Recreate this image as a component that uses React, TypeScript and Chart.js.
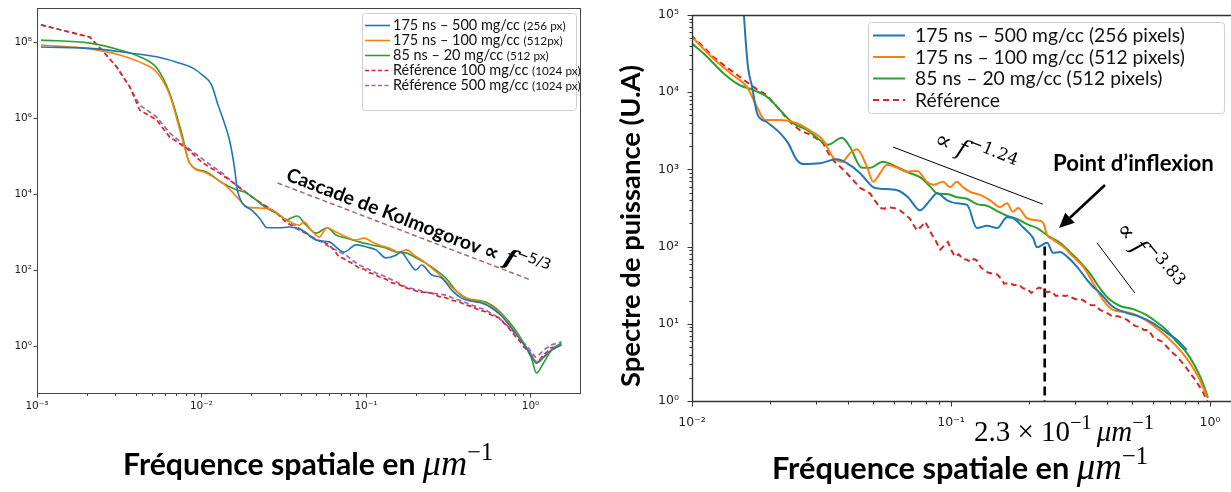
import React, { useEffect, useRef } from 'react';
import { Chart, registerables } from 'chart.js';
Chart.register(...registerables);

// ===== Data (stored as log10 of frequency / power) =====
// ---- Left panel ----
const L_BLUE_LOGF = [-2.976,-2.636,-2.436,-2.273,-2.152,-2.055,-1.994,-1.939,-1.903,-1.861,-1.830,-1.800,-1.782,-1.752,-1.697,-1.648,-1.600,-1.527,-1.467,-1.388,-1.303,-1.224,-1.133,-1.061,-1.000,-0.939,-0.879,-0.818,-0.788,-0.739,-0.697,-0.661,-0.600,-0.539,-0.479,-0.418,-0.358,-0.297,-0.236,-0.176,-0.115,-0.055,0.000,0.036,0.079,0.127,0.188];
const L_BLUE_LOGP = [7.87,7.82,7.71,7.61,7.47,7.32,7.13,6.87,6.39,5.87,5.42,4.71,4.11,3.76,3.58,3.37,3.11,3.11,3.13,3.05,2.79,2.74,2.47,2.66,2.61,2.53,2.32,2.39,2.47,2.21,2.00,2.13,1.87,1.79,1.47,1.26,1.18,1.13,1.00,0.79,0.47,0.13,-0.21,-0.45,-0.30,-0.11,0.03];

const L_ORANGE_LOGF = [-2.976,-2.679,-2.497,-2.376,-2.273,-2.194,-2.115,-2.073,-1.970,-1.873,-1.812,-1.758,-1.721,-1.648,-1.570,-1.485,-1.406,-1.376,-1.333,-1.285,-1.236,-1.182,-1.121,-1.061,-1.012,-0.964,-0.921,-0.861,-0.800,-0.752,-0.709,-0.661,-0.600,-0.539,-0.479,-0.418,-0.358,-0.297,-0.236,-0.176,-0.115,-0.055,0.000,0.036,0.079,0.127,0.188];
const L_ORANGE_LOGP = [7.92,7.82,7.66,7.47,7.21,6.61,5.42,4.82,4.55,4.29,4.05,3.79,3.66,3.63,3.58,3.32,3.18,3.26,3.05,2.87,3.11,3.00,2.87,2.79,2.84,2.74,2.66,2.58,2.47,2.53,2.39,2.26,2.05,1.82,1.55,1.34,1.21,1.16,1.03,0.82,0.50,0.16,-0.18,-0.42,-0.29,-0.11,0.03];

const L_GREEN_LOGF = [-2.976,-2.679,-2.497,-2.376,-2.273,-2.194,-2.121,-2.073,-1.970,-1.873,-1.788,-1.727,-1.667,-1.606,-1.545,-1.479,-1.455,-1.418,-1.364,-1.303,-1.236,-1.182,-1.121,-1.042,-0.964,-0.879,-0.818,-0.758,-0.697,-0.636,-0.576,-0.515,-0.455,-0.394,-0.333,-0.273,-0.212,-0.152,-0.091,-0.042,0.006,0.036,0.079,0.127,0.188];
const L_GREEN_LOGP = [8.05,7.97,7.79,7.61,7.32,6.66,5.61,4.82,4.58,4.29,4.11,4.03,3.84,3.63,3.50,3.32,3.37,3.42,3.18,2.97,3.11,2.92,2.84,2.74,2.66,2.58,2.47,2.45,2.32,2.18,2.00,1.79,1.47,1.26,1.21,1.16,1.00,0.74,0.42,0.08,-0.32,-0.71,-0.45,-0.11,0.08];

const L_RED_LOGF = [-2.976,-2.679,-2.606,-2.515,-2.436,-2.376,-2.273,-2.194,-2.091,-1.994,-1.891,-1.788,-1.667,-1.545,-1.485,-1.406,-1.360,-1.303,-1.260,-1.224,-1.190,-1.164,-1.140,-1.121,-1.080,-1.042,-1.010,-0.982,-0.950,-0.921,-0.880,-0.842,-0.800,-0.758,-0.720,-0.679,-0.640,-0.600,-0.555,-0.515,-0.475,-0.436,-0.400,-0.358,-0.315,-0.273,-0.235,-0.194,-0.163,-0.133,-0.103,-0.073,-0.042,-0.012,0.010,0.030,0.055,0.079,0.103,0.127,0.160,0.188];
const L_RED_LOGP = [8.45,8.13,7.79,7.34,6.82,6.21,5.95,5.50,5.21,4.82,4.55,4.24,3.84,3.50,3.26,3.05,2.95,2.79,2.74,2.66,2.50,2.34,2.31,2.26,2.17,2.05,2.02,1.93,1.89,1.82,1.76,1.66,1.62,1.53,1.49,1.42,1.41,1.39,1.30,1.27,1.20,1.17,1.09,1.04,0.95,0.90,0.81,0.75,0.61,0.48,0.31,0.17,-0.01,-0.16,-0.31,-0.40,-0.36,-0.23,-0.15,-0.04,-0.03,0.04];

const L_PURPLE_LOGF = [-2.976,-2.679,-2.606,-2.515,-2.436,-2.376,-2.273,-2.194,-2.091,-1.970,-1.873,-1.770,-1.667,-1.588,-1.509,-1.485,-1.400,-1.327,-1.270,-1.224,-1.170,-1.121,-1.080,-1.042,-0.990,-0.939,-0.890,-0.842,-0.800,-0.758,-0.720,-0.679,-0.640,-0.600,-0.555,-0.515,-0.475,-0.436,-0.400,-0.358,-0.315,-0.273,-0.235,-0.194,-0.163,-0.133,-0.103,-0.073,-0.042,-0.012,0.010,0.030,0.055,0.079,0.103,0.127,0.160,0.188];
const L_PURPLE_LOGP = [8.45,8.13,7.79,7.34,6.82,6.34,6.03,5.61,5.24,4.84,4.55,4.16,3.84,3.63,3.39,3.32,3.08,2.87,2.74,2.61,2.50,2.39,2.25,2.13,2.03,1.92,1.84,1.74,1.65,1.55,1.51,1.47,1.42,1.39,1.37,1.34,1.27,1.21,1.15,1.08,1.01,0.95,0.85,0.74,0.63,0.50,0.37,0.24,0.09,-0.05,-0.19,-0.29,-0.22,-0.11,-0.04,0.03,0.07,0.11];

// Kolmogorov guide line (frequency, power)
const KOLMO_F = [0.029, 1.0];
const KOLMO_P = [1.95e4, 55];

// ---- Right panel ----
const R_BLUE_LOGF = [-1.811,-1.795,-1.784,-1.768,-1.749,-1.710,-1.660,-1.629,-1.595,-1.571,-1.506,-1.440,-1.402,-1.351,-1.301,-1.274,-1.208,-1.166,-1.120,-1.081,-1.054,-1.015,-0.977,-0.938,-0.900,-0.861,-0.822,-0.784,-0.761,-0.722,-0.683,-0.668,-0.629,-0.606,-0.579,-0.552,-0.514,-0.475,-0.452,-0.425,-0.375,-0.320,-0.270,-0.220,-0.166,-0.127,-0.089];
const R_BLUE_LOGP = [5.60,4.77,4.33,4.07,3.73,3.61,3.47,3.34,3.12,3.07,3.08,3.13,3.08,2.95,2.77,2.75,2.73,2.64,2.47,2.60,2.69,2.60,2.56,2.54,2.24,2.27,2.24,2.38,2.37,2.25,2.11,1.99,2.05,1.92,1.93,1.87,1.74,1.57,1.48,1.40,1.22,1.14,1.09,1.01,0.88,0.79,0.66];

const R_ORANGE_LOGF = [-2.004,-1.919,-1.842,-1.788,-1.749,-1.718,-1.660,-1.595,-1.533,-1.494,-1.456,-1.421,-1.390,-1.363,-1.324,-1.301,-1.274,-1.247,-1.208,-1.170,-1.131,-1.093,-1.069,-1.031,-1.004,-0.977,-0.954,-0.927,-0.888,-0.849,-0.811,-0.784,-0.761,-0.741,-0.707,-0.668,-0.645,-0.629,-0.606,-0.568,-0.529,-0.490,-0.452,-0.413,-0.375,-0.320,-0.270,-0.220,-0.166,-0.116,-0.077,-0.039,-0.012];
const R_ORANGE_LOGP = [4.73,4.44,4.22,4.07,3.81,3.64,3.64,3.60,3.48,3.38,3.16,3.10,3.21,3.26,3.03,2.84,2.95,3.06,3.02,2.97,2.98,2.84,2.80,2.84,2.77,2.84,2.77,2.71,2.67,2.60,2.51,2.56,2.45,2.50,2.37,2.34,2.31,2.15,2.09,2.00,1.87,1.74,1.53,1.31,1.18,1.15,1.09,0.98,0.83,0.66,0.49,0.27,0.05];

const R_GREEN_LOGF = [-2.004,-1.942,-1.880,-1.815,-1.764,-1.710,-1.660,-1.610,-1.556,-1.506,-1.475,-1.421,-1.390,-1.344,-1.313,-1.263,-1.208,-1.158,-1.120,-1.081,-1.054,-1.015,-0.977,-0.938,-0.900,-0.861,-0.822,-0.784,-0.745,-0.707,-0.668,-0.625,-0.579,-0.541,-0.502,-0.463,-0.425,-0.386,-0.347,-0.297,-0.243,-0.205,-0.166,-0.127,-0.089,-0.050,-0.027,-0.008];
const R_GREEN_LOGP = [4.64,4.46,4.25,4.09,4.03,3.94,3.77,3.60,3.51,3.38,3.32,3.41,3.29,3.02,3.02,3.10,3.03,2.95,2.90,2.78,2.69,2.68,2.64,2.62,2.55,2.53,2.46,2.40,2.36,2.29,2.24,2.14,2.05,1.93,1.80,1.65,1.46,1.31,1.23,1.19,1.11,1.02,0.91,0.76,0.62,0.40,0.23,0.04];

const R_RED_LOGF = [-2.004,-1.960,-1.919,-1.885,-1.853,-1.820,-1.788,-1.750,-1.710,-1.685,-1.660,-1.635,-1.610,-1.580,-1.544,-1.520,-1.494,-1.475,-1.456,-1.430,-1.402,-1.375,-1.351,-1.313,-1.290,-1.274,-1.258,-1.243,-1.220,-1.197,-1.178,-1.158,-1.145,-1.131,-1.115,-1.100,-1.088,-1.073,-1.058,-1.042,-1.027,-1.012,-0.998,-0.985,-0.970,-0.955,-0.938,-0.925,-0.912,-0.900,-0.885,-0.869,-0.855,-0.840,-0.822,-0.808,-0.795,-0.772,-0.758,-0.740,-0.722,-0.705,-0.690,-0.675,-0.660,-0.645,-0.629,-0.612,-0.595,-0.579,-0.560,-0.545,-0.529,-0.510,-0.492,-0.475,-0.458,-0.440,-0.425,-0.410,-0.392,-0.375,-0.358,-0.340,-0.320,-0.305,-0.288,-0.270,-0.255,-0.238,-0.220,-0.205,-0.185,-0.166,-0.150,-0.132,-0.116,-0.098,-0.077,-0.058,-0.039,-0.025,-0.012,-0.004];
const R_RED_LOGP = [4.74,4.60,4.46,4.37,4.29,4.21,4.13,4.04,3.96,3.86,3.77,3.66,3.58,3.50,3.45,3.40,3.34,3.22,3.12,3.04,2.95,2.85,2.76,2.69,2.58,2.50,2.49,2.51,2.50,2.47,2.42,2.36,2.28,2.21,2.26,2.32,2.25,2.15,2.07,1.96,2.01,2.06,1.95,1.87,1.90,1.84,1.83,1.80,1.84,1.82,1.73,1.69,1.66,1.65,1.64,1.59,1.52,1.53,1.50,1.51,1.46,1.45,1.40,1.44,1.47,1.45,1.41,1.42,1.36,1.37,1.36,1.37,1.33,1.31,1.31,1.27,1.24,1.24,1.18,1.16,1.13,1.09,1.10,1.08,1.05,1.01,0.97,0.96,0.92,0.92,0.83,0.80,0.77,0.70,0.64,0.59,0.53,0.46,0.36,0.28,0.18,0.10,0.01,-0.05];

// Guide lines (frequency, power)
const SLOPE1_F = [0.0597, 0.226];
const SLOPE1_P = [1950, 355];
const SLOPE2_F = [0.366, 0.513];
const SLOPE2_P = [112, 25];
const INFLEX_F = [0.23, 0.23];
const INFLEX_P = [100, 1];

// ---- Labels ----
const LEFT_LEGEND_MAIN = ['175 ns – 500 mg/cc', '175 ns – 100 mg/cc', '85 ns – 20 mg/cc', 'Référence 100 mg/cc', 'Référence 500 mg/cc'];
const LEFT_LEGEND_SMALL = ['(256 px)', '(512px)', '(512 px)', '(1024 px)', '(1024 px)'];
const RIGHT_LEGEND = ['175 ns – 500 mg/cc (256 pixels)', '175 ns – 100 mg/cc (512 pixels)', '85 ns – 20 mg/cc (512 pixels)', 'Référence'];

const LEFT_X_MAJOR = [1e-3, 1e-2, 1e-1, 1];
const LEFT_X_LABELS = ['10⁻³', '10⁻²', '10⁻¹', '10⁰'];
const LEFT_Y_MAJOR = [1, 1e2, 1e4, 1e6, 1e8];
const LEFT_Y_LABELS = ['10⁰', '10²', '10⁴', '10⁶', '10⁸'];
const RIGHT_X_MAJOR = [1e-2, 1e-1, 1];
const RIGHT_X_LABELS = ['10⁻²', '10⁻¹', '10⁰'];
const RIGHT_Y_MAJOR = [1, 10, 100, 1e3, 1e4, 1e5];
const RIGHT_Y_LABELS = ['10⁰', '10¹', '10²', '10³', '10⁴', '10⁵'];
const MINOR_MULT = [2, 3, 4, 5, 6, 7, 8, 9];

const X_TITLE_BOLD = 'Fréquence spatiale en ';
const X_TITLE_UNIT = 'μm';
const SUP_M1 = '−1';
const Y_TITLE_RIGHT = 'Spectre de puissance (U.A)';
const KOLMO_TEXT = 'Cascade de Kolmogorov ';
const KOLMO_EXP = '−5/3';
const SLOPE1_EXP = '−1.24';
const SLOPE2_EXP = '−3.83';
const INFLEX_TEXT = 'Point d’inflexion';
const INFLEX_VALUE = '2.3 × 10';

const COLORS = { blue: '#1f77b4', orange: '#ff7f0e', green: '#2ca02c', red: '#d62728', purple: '#9467bd' };

// ===== helpers =====
const logPts = (lf: number[], lp: number[]) =>
  lf.slice(0, Math.min(lf.length, lp.length)).map((f, i) => ({ x: Math.pow(10, f), y: Math.pow(10, lp[i]) }));
const pts = (xs: number[], ys: number[]) => xs.map((x, i) => ({ x, y: ys[i] }));
const minorsOf = (majors: number[], min: number, max: number) => {
  const out: number[] = [];
  majors.forEach((m) => MINOR_MULT.forEach((k) => { const v = m * k; if (v > min && v < max) out.push(v); }));
  return out;
};

function logAxis(o: { min: number; max: number; majors: number[]; labels: string[]; minors: number[]; fontSize: number; padding: number; size: number; isX: boolean }) {
  return {
    type: 'logarithmic',
    min: o.min,
    max: o.max,
    afterBuildTicks: (s: any) => {
      s.ticks = [...o.majors, ...o.minors].sort((a, b) => a - b).map((v) => ({ value: v }));
    },
    ticks: {
      autoSkip: false,
      maxRotation: 0,
      minRotation: 0,
      padding: o.padding,
      color: '#222',
      font: { family: '"DejaVu Sans"', size: o.fontSize },
      callback: (v: number) => {
        const i = o.majors.findIndex((m) => Math.abs(m - v) / m < 1e-6);
        return i >= 0 ? o.labels[i] : '';
      },
    },
    grid: { display: false, drawTicks: false },
    border: { display: false },
    afterFit: (s: any) => {
      if (o.isX) s.height = o.size; else s.width = o.size;
      s.paddingLeft = 0; s.paddingRight = 0; s.paddingTop = 0; s.paddingBottom = 0;
    },
  };
}

type Seg = { t: string; f: string; dy?: number };
function drawSegs(ctx: CanvasRenderingContext2D, segs: Seg[], x: number, y: number, angle = 0, align: 'left' | 'center' = 'left') {
  ctx.save();
  ctx.translate(x, y);
  ctx.rotate(angle);
  ctx.textAlign = 'left';
  ctx.textBaseline = 'alphabetic';
  let total = 0;
  for (const s of segs) { ctx.font = s.f; total += ctx.measureText(s.t).width; }
  let cx = align === 'center' ? -total / 2 : 0;
  for (const s of segs) { ctx.font = s.f; ctx.fillText(s.t, cx, s.dy || 0); cx += ctx.measureText(s.t).width; }
  ctx.restore();
}
function fitSize(ctx: CanvasRenderingContext2D, text: string, font: (s: number) => string, target: number) {
  ctx.font = font(100);
  return (100 * target) / ctx.measureText(text).width;
}
function drawTicks(ctx: CanvasRenderingContext2D, scale: any, majors: number[], minors: number[], isX: boolean, edge: number, maj: number, min: number) {
  ctx.beginPath();
  const add = (v: number, len: number) => {
    const p = Math.round(scale.getPixelForValue(v)) + 0.5;
    if (isX) { ctx.moveTo(p, edge); ctx.lineTo(p, edge + len); } else { ctx.moveTo(edge, p); ctx.lineTo(edge - len, p); }
  };
  majors.forEach((v) => add(v, maj));
  minors.forEach((v) => add(v, min));
  ctx.stroke();
}
function roundRect(ctx: CanvasRenderingContext2D, x: number, y: number, w: number, h: number, r: number) {
  ctx.beginPath();
  ctx.moveTo(x + r, y); ctx.lineTo(x + w - r, y); ctx.quadraticCurveTo(x + w, y, x + w, y + r);
  ctx.lineTo(x + w, y + h - r); ctx.quadraticCurveTo(x + w, y + h, x + w - r, y + h);
  ctx.lineTo(x + r, y + h); ctx.quadraticCurveTo(x, y + h, x, y + h - r);
  ctx.lineTo(x, y + r); ctx.quadraticCurveTo(x, y, x + r, y);
  ctx.closePath();
}
const sansB = (s: number) => `bold ${s}px Lato`;
const sans = (s: number) => `${s}px Lato`;

function drawXTitle(ctx: CanvasRenderingContext2D, cx: number, baseline: number, boldWidth: number) {
  const s = fitSize(ctx, X_TITLE_BOLD, sansB, boldWidth);
  ctx.fillStyle = '#000';
  drawSegs(ctx, [
    { t: X_TITLE_BOLD, f: sansB(s) },
    { t: X_TITLE_UNIT, f: `italic ${s * 1.2}px "Liberation Serif"` },
    { t: SUP_M1, f: `${s * 0.8}px "Liberation Serif"`, dy: -s * 0.5 },
  ], cx, baseline, 0, 'center');
}

// ===== left chart =====
const LX_MINORS = minorsOf(LEFT_X_MAJOR, 1e-3, 2);

function leftConfig(): any {
  const solid = (label: string, data: any, color: string) => ({ label, data, borderColor: color, backgroundColor: color, borderWidth: 1.6, pointRadius: 0, fill: false, cubicInterpolationMode: 'monotone' });
  const dashed = (label: string, data: any, color: string) => ({ label, data, borderColor: color, backgroundColor: color, borderWidth: 1.7, borderDash: [5, 3], pointRadius: 0, fill: false, tension: 0 });
  const lbl = (i: number) => LEFT_LEGEND_MAIN[i] + ' ' + LEFT_LEGEND_SMALL[i];
  const datasets = [
    solid(lbl(0), logPts(L_BLUE_LOGF, L_BLUE_LOGP), COLORS.blue),
    solid(lbl(1), logPts(L_ORANGE_LOGF, L_ORANGE_LOGP), COLORS.orange),
    solid(lbl(2), logPts(L_GREEN_LOGF, L_GREEN_LOGP), COLORS.green),
    dashed(lbl(3), logPts(L_RED_LOGF, L_RED_LOGP), COLORS.red),
    dashed(lbl(4), logPts(L_PURPLE_LOGF, L_PURPLE_LOGP), COLORS.purple),
    { label: 'Kolmogorov', data: pts(KOLMO_F, KOLMO_P), borderColor: 'rgba(140,86,75,0.85)', borderWidth: 1.5, borderDash: [5, 3], pointRadius: 0, fill: false },
  ];
  const legendStyles = [
    { c: COLORS.blue, d: [] as number[] }, { c: COLORS.orange, d: [] }, { c: COLORS.green, d: [] },
    { c: COLORS.red, d: [4, 2.5] }, { c: COLORS.purple, d: [4, 2.5] },
  ];
  const deco = {
    id: 'leftDeco',
    afterDraw(chart: any) {
      const ctx: CanvasRenderingContext2D = chart.ctx;
      const a = chart.chartArea;
      ctx.save();
      ctx.strokeStyle = '#444';
      ctx.lineWidth = 1;
      ctx.strokeRect(Math.round(a.left) + 0.5, Math.round(a.top) + 0.5, Math.round(a.right - a.left), Math.round(a.bottom - a.top));
      drawTicks(ctx, chart.scales.x, LEFT_X_MAJOR, LX_MINORS, true, Math.round(a.bottom) + 0.5, 4, 2.5);
      drawTicks(ctx, chart.scales.y, LEFT_Y_MAJOR, [], false, Math.round(a.left) + 0.5, 4, 2);

      // legend
      roundRect(ctx, 362.5, 13.5, 214, 97, 3);
      ctx.fillStyle = 'rgba(255,255,255,0.9)';
      ctx.fill();
      ctx.strokeStyle = '#cfcfcf';
      ctx.stroke();
      const ms = fitSize(ctx, LEFT_LEGEND_MAIN[0], sans, 127);
      const ss = fitSize(ctx, LEFT_LEGEND_SMALL[0], sans, 42);
      LEFT_LEGEND_MAIN.forEach((t, i) => {
        const y = 25 + 15 * i;
        ctx.strokeStyle = legendStyles[i].c;
        ctx.lineWidth = 1.6;
        ctx.setLineDash(legendStyles[i].d);
        ctx.beginPath(); ctx.moveTo(365, y + 0.5); ctx.lineTo(390, y + 0.5); ctx.stroke();
        ctx.setLineDash([]);
        ctx.fillStyle = '#111';
        drawSegs(ctx, [{ t: t + ' ', f: sans(ms) }, { t: LEFT_LEGEND_SMALL[i], f: sans(ss) }], 393, y + ms * 0.36);
      });

      // Kolmogorov annotation
      const ks = fitSize(ctx, 'Cascade de Kolmogorov', sansB, 207);
      ctx.fillStyle = '#000';
      drawSegs(ctx, [
        { t: KOLMO_TEXT, f: sansB(ks) },
        { t: '∝ ', f: `bold ${ks * 1.05}px "DejaVu Sans"` },
        { t: 'f', f: `bold italic ${ks * 1.2}px "DejaVu Serif"` },
        { t: KOLMO_EXP, f: `${ks * 0.75}px "DejaVu Sans"`, dy: -ks * 0.55 },
      ], 285, 180, (21 * Math.PI) / 180);

      drawXTitle(ctx, 308, 475, 300);
      ctx.restore();
    },
  };
  return {
    type: 'line',
    data: { datasets },
    options: {
      responsive: false,
      animation: false,
      devicePixelRatio: 1,
      layout: { padding: { top: 8, right: 20, left: 0, bottom: 0 } },
      plugins: { legend: { display: false }, tooltip: { enabled: false } },
      scales: {
        x: logAxis({ min: 1e-3, max: 2, majors: LEFT_X_MAJOR, labels: LEFT_X_LABELS, minors: LX_MINORS, fontSize: 10.5, padding: 7, size: 99, isX: true }),
        y: logAxis({ min: Math.pow(10, -1.237), max: Math.pow(10, 8.895), majors: LEFT_Y_MAJOR, labels: LEFT_Y_LABELS, minors: [], fontSize: 10.5, padding: 5, size: 37, isX: false }),
      },
    },
    plugins: [deco],
  };
}

// ===== right chart =====
const RX_MAX = Math.pow(10, 0.081);
const RX_MINORS = minorsOf(RIGHT_X_MAJOR, 1e-2, RX_MAX);
const RY_MINORS = minorsOf(RIGHT_Y_MAJOR, 1, 1e5);

function rightConfig(): any {
  const solid = (label: string, data: any, color: string) => ({ label, data, borderColor: color, backgroundColor: color, borderWidth: 2, pointRadius: 0, fill: false, cubicInterpolationMode: 'monotone' });
  const guide = (label: string, data: any, w: number, dash: number[]) => ({ label, data, borderColor: '#000', borderWidth: w, borderDash: dash, pointRadius: 0, fill: false });
  const datasets = [
    solid(RIGHT_LEGEND[0], logPts(R_BLUE_LOGF, R_BLUE_LOGP), COLORS.blue),
    solid(RIGHT_LEGEND[1], logPts(R_ORANGE_LOGF, R_ORANGE_LOGP), COLORS.orange),
    solid(RIGHT_LEGEND[2], logPts(R_GREEN_LOGF, R_GREEN_LOGP), COLORS.green),
    { label: RIGHT_LEGEND[3], data: logPts(R_RED_LOGF, R_RED_LOGP), borderColor: COLORS.red, borderWidth: 2, borderDash: [6, 4], pointRadius: 0, fill: false, tension: 0 },
    guide('slope -1.24', pts(SLOPE1_F, SLOPE1_P), 1, []),
    guide('slope -3.83', pts(SLOPE2_F, SLOPE2_P), 1, []),
    guide('inflexion', pts(INFLEX_F, INFLEX_P), 2.6, [9, 5]),
  ];
  const legendStyles = [
    { c: COLORS.blue, d: [] as number[] }, { c: COLORS.orange, d: [] }, { c: COLORS.green, d: [] }, { c: COLORS.red, d: [6, 4] },
  ];
  const deco = {
    id: 'rightDeco',
    afterDraw(chart: any) {
      const ctx: CanvasRenderingContext2D = chart.ctx;
      const a = chart.chartArea;
      ctx.save();
      ctx.strokeStyle = '#333';
      ctx.lineWidth = 1.4;
      const L = Math.round(a.left) + 0.5, T = Math.round(a.top) + 0.5, B = Math.round(a.bottom) + 0.5;
      ctx.beginPath();
      ctx.moveTo(chart.width, T); ctx.lineTo(L, T); ctx.lineTo(L, B); ctx.lineTo(chart.width, B);
      ctx.stroke();
      ctx.lineWidth = 1;
      drawTicks(ctx, chart.scales.x, RIGHT_X_MAJOR, RX_MINORS, true, B, 5, 3);
      drawTicks(ctx, chart.scales.y, RIGHT_Y_MAJOR, RY_MINORS, false, L, 5, 3);

      // legend
      roundRect(ctx, 268.5, 22.5, 356, 91, 3);
      ctx.fillStyle = 'rgba(255,255,255,0.9)';
      ctx.fill();
      ctx.strokeStyle = '#cfcfcf';
      ctx.lineWidth = 1;
      ctx.stroke();
      const ls = fitSize(ctx, RIGHT_LEGEND[0], sans, 270);
      RIGHT_LEGEND.forEach((t, i) => {
        const y = 35.5 + 21.5 * i;
        ctx.strokeStyle = legendStyles[i].c;
        ctx.lineWidth = 2;
        ctx.setLineDash(legendStyles[i].d);
        ctx.beginPath(); ctx.moveTo(273, y); ctx.lineTo(305, y); ctx.stroke();
        ctx.setLineDash([]);
        ctx.fillStyle = '#111';
        drawSegs(ctx, [{ t, f: sans(ls) }], 315, y + ls * 0.36);
      });

      ctx.fillStyle = '#000';
      // slope labels
      const mf = 24;
      drawSegs(ctx, [
        { t: '∝ ', f: `${mf}px "DejaVu Serif"` },
        { t: 'f', f: `italic ${mf}px "DejaVu Serif"` },
        { t: SLOPE1_EXP, f: `${mf * 0.7}px "DejaVu Serif"`, dy: -mf * 0.5 },
      ], 333, 145, (22 * Math.PI) / 180);
      drawSegs(ctx, [
        { t: '∝ ', f: `${mf}px "DejaVu Serif"` },
        { t: 'f', f: `italic ${mf}px "DejaVu Serif"` },
        { t: SLOPE2_EXP, f: `${mf * 0.7}px "DejaVu Serif"`, dy: -mf * 0.5 },
      ], 515, 230, (50 * Math.PI) / 180);

      // inflexion label and arrow
      const ps = fitSize(ctx, INFLEX_TEXT, sansB, 161);
      drawSegs(ctx, [{ t: INFLEX_TEXT, f: sansB(ps) }], 453, 171);
      const sx = 505, sy = 185, tx = 459, ty = 228;
      const dx = tx - sx, dy = ty - sy, len = Math.hypot(dx, dy);
      const ux = dx / len, uy = dy / len;
      const bx = tx - ux * 15, by = ty - uy * 15;
      ctx.strokeStyle = '#000';
      ctx.lineWidth = 2.6;
      ctx.beginPath(); ctx.moveTo(sx, sy); ctx.lineTo(bx, by); ctx.stroke();
      ctx.beginPath();
      ctx.moveTo(tx, ty); ctx.lineTo(bx - uy * 7, by + ux * 7); ctx.lineTo(bx + uy * 7, by - ux * 7);
      ctx.closePath(); ctx.fill();

      // value of the inflexion point
      const vs = 29;
      drawSegs(ctx, [
        { t: INFLEX_VALUE, f: `${vs}px "Liberation Serif"` },
        { t: SUP_M1 + ' ', f: `${vs * 0.7}px "Liberation Serif"`, dy: -vs * 0.42 },
        { t: X_TITLE_UNIT, f: `italic ${vs}px "Liberation Serif"` },
        { t: SUP_M1, f: `${vs * 0.7}px "Liberation Serif"`, dy: -vs * 0.42 },
      ], 374, 441);

      // y title
      const ys = fitSize(ctx, Y_TITLE_RIGHT, sansB, 322);
      ctx.save();
      ctx.translate(40, 226);
      ctx.rotate(-Math.PI / 2);
      ctx.font = sansB(ys);
      ctx.textAlign = 'center';
      ctx.textBaseline = 'alphabetic';
      ctx.fillText(Y_TITLE_RIGHT, 0, 0);
      ctx.restore();

      drawXTitle(ctx, 360, 479, 305);
      ctx.restore();
    },
  };
  return {
    type: 'line',
    data: { datasets },
    options: {
      responsive: false,
      animation: false,
      devicePixelRatio: 1,
      layout: { padding: { top: 15, right: 0, left: 0, bottom: 0 } },
      plugins: { legend: { display: false }, tooltip: { enabled: false } },
      scales: {
        x: logAxis({ min: 1e-2, max: RX_MAX, majors: RIGHT_X_MAJOR, labels: RIGHT_X_LABELS, minors: RX_MINORS, fontSize: 12.5, padding: 14, size: 91, isX: true }),
        y: logAxis({ min: 1, max: 1e5, majors: RIGHT_Y_MAJOR, labels: RIGHT_Y_LABELS, minors: RY_MINORS, fontSize: 12.5, padding: 13, size: 92, isX: false }),
      },
    },
    plugins: [deco],
  };
}

export default function App() {
  const leftRef = useRef<HTMLCanvasElement>(null);
  const rightRef = useRef<HTMLCanvasElement>(null);
  useEffect(() => {
    const c1 = new Chart(leftRef.current as HTMLCanvasElement, leftConfig());
    const c2 = new Chart(rightRef.current as HTMLCanvasElement, rightConfig());
    return () => { c1.destroy(); c2.destroy(); };
  }, []);
  return (
    <div style={{ position: 'fixed', left: 0, top: 0, width: 1231, height: 492, background: '#fff', overflow: 'hidden' }}>
      <canvas ref={leftRef} width={600} height={492} style={{ position: 'absolute', left: 0, top: 0, width: 600, height: 492 }} />
      <canvas ref={rightRef} width={631} height={492} style={{ position: 'absolute', left: 600, top: 0, width: 631, height: 492 }} />
    </div>
  );
}
